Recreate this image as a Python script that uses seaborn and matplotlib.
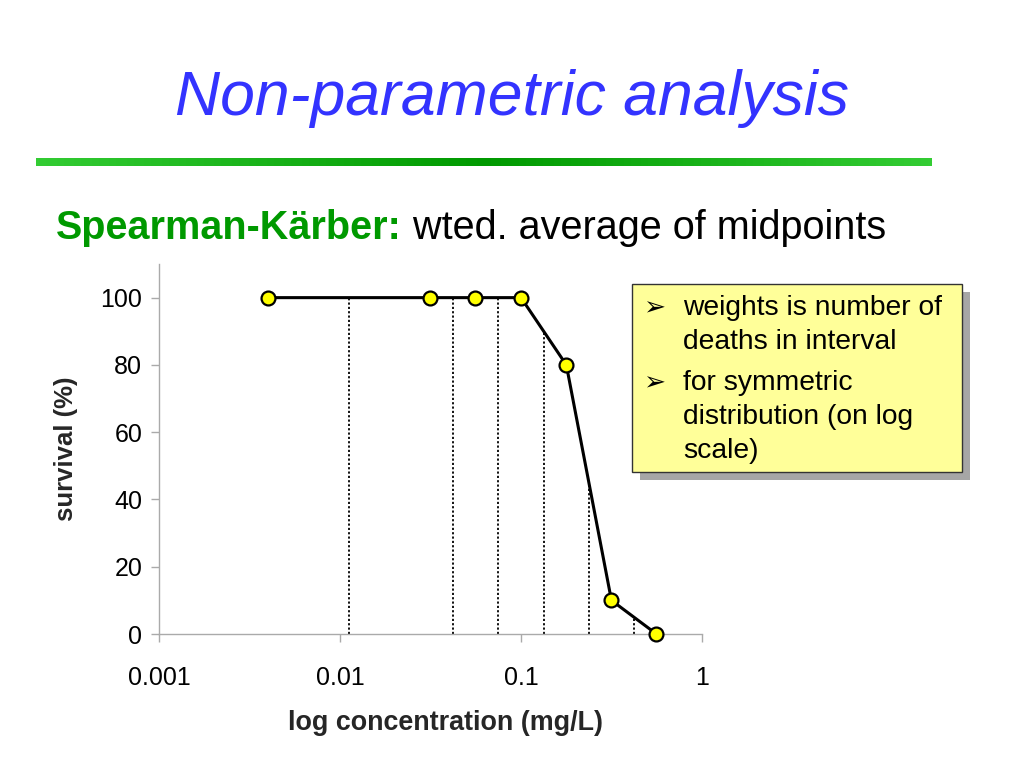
import numpy as np
import matplotlib
matplotlib.use("Agg")
import matplotlib.pyplot as plt
from matplotlib.patches import Rectangle
from matplotlib.colors import LinearSegmentedColormap
import seaborn as sns
import pandas as pd

# ---- data ----
concentration = [0.004, 0.0316, 0.056, 0.1, 0.178, 0.316, 0.56]
survival = [100, 100, 100, 100, 80, 10, 0]
x_ticks = [0.001, 0.01, 0.1, 1]
x_tick_labels = ["0.001", "0.01", "0.1", "1"]
y_ticks = [0, 20, 40, 60, 80, 100]

title = "Non-parametric analysis"
subtitle_bold = "Spearman-Kärber:"
subtitle_rest = " wted. average of midpoints"
bullets = [["weights is number of", "deaths in interval"],
           ["for symmetric", "distribution (on log", "scale)"]]

sns.set_theme(style="white")
plt.rcParams['font.family'] = ['Liberation Sans', 'DejaVu Sans']

fig = plt.figure(figsize=(10.24, 7.68), dpi=100)
fig.patch.set_facecolor("white")

# Title
fig.text(0.5, 1 - 99/768, title, ha="center", va="center", fontsize=45,
         style="italic", color="#3333FF")

# Gradient green rule
gax = fig.add_axes([36/1024, 1 - 166/768, (932-36)/1024, 8/768])
cmap = LinearSegmentedColormap.from_list("g", ["#33CC33", "#009900", "#33CC33"])
gax.imshow(np.linspace(0, 1, 256)[None, :], aspect="auto", cmap=cmap)
gax.set_axis_off()

# Subtitle
t1 = fig.text(56/1024, 1 - 228/768, subtitle_bold, ha="left", va="center",
              fontsize=28.5, fontweight="bold", color="#009900")
fig.canvas.draw()
bb = t1.get_window_extent()
fig.text(bb.x1/1024, 1 - 228/768, subtitle_rest, ha="left", va="center",
         fontsize=28.5, color="black")

# Main axes
ax = fig.add_axes([159/1024, 1 - 634/768, (702-159)/1024, (634-264)/768])
df = pd.DataFrame({"conc": concentration, "surv": survival})

# midpoints (log scale) and curve heights there
lx = np.log10(concentration)
mids = 10 ** ((lx[:-1] + lx[1:]) / 2)
mid_h = (np.array(survival[:-1]) + np.array(survival[1:])) / 2
ax.vlines(mids, 0, mid_h, colors="black", linestyles=(0, (1.2, 1.2)), linewidth=1.3, zorder=2)

sns.lineplot(data=df, x="conc", y="surv", ax=ax, color="black", linewidth=2.2,
             marker="o", markersize=10, markerfacecolor="#FFFF00",
             markeredgecolor="black", markeredgewidth=1.6, zorder=3, clip_on=False)

ax.set_xscale("log")
ax.set_xlim(0.001, 1)
ax.set_ylim(0, 110)
ax.set_xticks(x_ticks)
ax.set_xticklabels(x_tick_labels)
ax.set_yticks(y_ticks)
ax.xaxis.set_minor_locator(matplotlib.ticker.NullLocator())
for s in ["top", "right"]:
    ax.spines[s].set_visible(False)
for s in ["left", "bottom"]:
    ax.spines[s].set_color("#AAAAAA")
    ax.spines[s].set_linewidth(1)
ax.tick_params(axis="both", which="major", direction="out", length=6, width=1,
               color="#AAAAAA", labelsize=18, labelcolor="black", pad=6,
               bottom=True, left=True)
ax.tick_params(axis="x", pad=17)
ax.set_xlabel("log concentration (mg/L)", fontsize=19.4, fontweight="bold")
ax.xaxis.label.set_va("center")
ax.xaxis.set_label_coords((446-159)/543, (634-723)/370)
ax.set_ylabel("survival (%)", fontsize=18.5, fontweight="bold", labelpad=16)
ax.set_facecolor("white")
ax.grid(False)

# Text box with shadow
bx0, by0, bx1, by1 = 632, 284, 962, 472
off = 8
fig.patches.append(Rectangle(((bx0+off)/1024, 1 - (by1+off)/768), (bx1-bx0)/1024, (by1-by0)/768,
                             transform=fig.transFigure, facecolor="#A6A6A6", edgecolor="none", zorder=5))
fig.patches.append(Rectangle((bx0/1024, 1 - by1/768), (bx1-bx0)/1024, (by1-by0)/768,
                             transform=fig.transFigure, facecolor="#FFFF99", edgecolor="#333333",
                             linewidth=1, zorder=6))
line_y = [[308, 342], [383, 417, 451]]
for ys, lines in zip(line_y, bullets):
    fig.text(643/1024, 1 - ys[0]/768, "➢", ha="left", va="center", fontsize=19,
             family=["DejaVu Sans"], color="black", zorder=7)
    for yl, ln in zip(ys, lines):
        fig.text(683/1024, 1 - yl/768, ln, ha="left", va="center", fontsize=20.3,
                 color="black", zorder=7)

fig.savefig("out.png", dpi=100)
